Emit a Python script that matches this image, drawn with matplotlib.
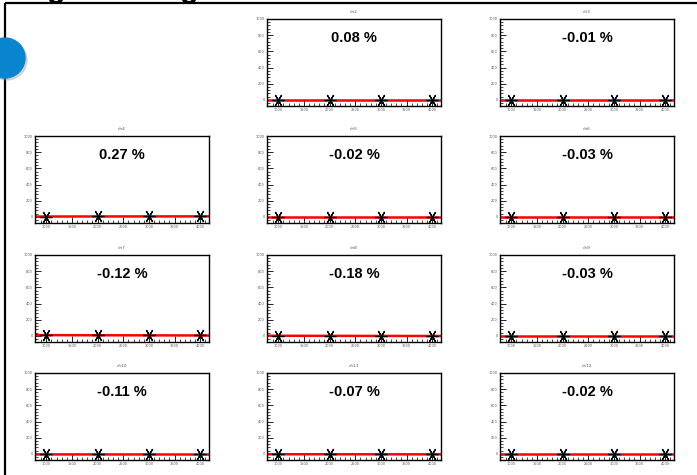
import matplotlib
matplotlib.use('Agg')
import matplotlib.pyplot as plt
import numpy as np

# Datos de los canales
canales = ['ch2', 'ch3', 'ch4', 'ch5', 'ch6', 'ch7', 'ch8', 'ch9', 'ch10', 'ch11', 'ch12']
porcentajes = ['0.08 %', '-0.01 %', '0.27 %', '-0.02 %', '-0.03 %', '-0.12 %',
               '-0.18 %', '-0.03 %', '-0.11 %', '-0.07 %', '-0.02 %']
x_puntos = [1000, 2000, 3000, 4000]
y_puntos = [
    [4, 4, 4, 4],
    [-2, -2, -2, -2],
    [5, 6, 6, 7],
    [-3, -3, -3, -3],
    [-2, -2, -2, -2],
    [10, 8, 7, 6],
    [2, 1, 0, -1],
    [-2, -2, -2, -2],
    [-6, -6, -7, -7],
    [-4, -4, -5, -5],
    [-3, -3, -3, -3],
]
# posicion (fila, columna) de cada canal en la rejilla
posiciones = [(0, 1), (0, 2), (1, 0), (1, 1), (1, 2), (2, 0), (2, 1), (2, 2),
              (3, 0), (3, 1), (3, 2)]

W, H = 697, 475
fig = plt.figure(figsize=(W / 100, H / 100), dpi=100)

# Fondo de la diapositiva en pixeles
fondo = fig.add_axes([0, 0, 1, 1])
fondo.set_xlim(0, W)
fondo.set_ylim(H, 0)
fondo.axis('off')
fondo.plot([5, W], [3, 3], color='black', lw=1.6, solid_capstyle='butt')
fondo.plot([5, 5], [3, H], color='black', lw=1.6, solid_capstyle='butt')
sombra = plt.Circle((7, 60), 20, color='#999999', alpha=0.35, zorder=3)
fondo.add_patch(sombra)
circulo = plt.Circle((5, 58), 20, color='#0984CE', zorder=4)
fondo.add_patch(circulo)
# titulo cortado arriba: solo se ven los rabos de las 'g'
for xg in [56, 189]:
    fig.text(xg / W, 1 + 3.5 / H, 'g', fontsize=22, fontweight='bold',
             family='Liberation Sans', ha='center', va='baseline')

col_x = [35, 267, 500]
fila_y = [19, 136, 255, 373]
ancho, alto = 174, 87

for nombre, pct, ys, (f, c) in zip(canales, porcentajes, y_puntos, posiciones):
    izq = col_x[c]
    arriba = fila_y[f]
    ax = fig.add_axes([izq / W, 1 - (arriba + alto) / H, ancho / W, alto / H])
    ax.set_xlim(780, 4170)
    ax.set_ylim(-75, 1000)

    # ajuste lineal
    p = np.polyfit(x_puntos, ys, 1)
    xx = np.array([780, 4170])
    ax.plot(xx, np.polyval(p, xx), color='red', lw=1.8, zorder=2)
    ax.plot(x_puntos, ys, linestyle='none', marker=(6, 2, 90), markersize=9,
            markeredgewidth=0.9, color='black', zorder=3)

    ax.set_xticks([1000, 1500, 2000, 2500, 3000, 3500, 4000])
    ax.set_xticks(np.arange(900, 4170, 100), minor=True)
    ax.set_yticks([0, 200, 400, 600, 800, 1000])
    ax.set_yticks(np.arange(-40, 1001, 40), minor=True)
    ax.tick_params(which='major', direction='in', length=4, width=0.6,
                   labelsize=2.5, labelcolor='#555555', pad=1.5)
    ax.tick_params(which='minor', direction='in', length=2, width=0.5)
    for s in ax.spines.values():
        s.set_linewidth(1.0)

    ax.text(0.5, 0.78, pct, transform=ax.transAxes, ha='center', va='center',
            fontsize=10.5, fontweight='bold', family='Liberation Sans')
    fig.text((izq + ancho / 2) / W, 1 - (arriba - 7) / H, nombre,
             ha='center', va='center', fontsize=3.2, color='#555555')

fig.savefig('out.png', dpi=100)
